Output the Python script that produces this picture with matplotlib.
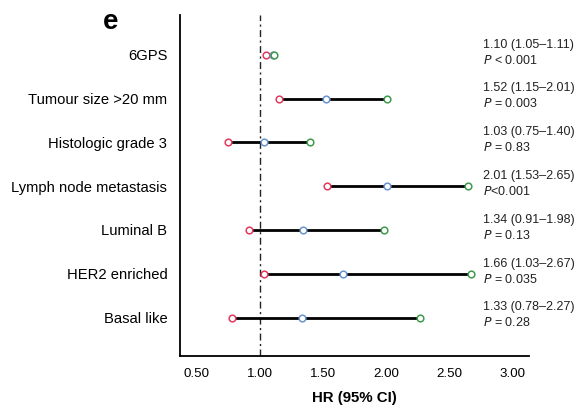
import matplotlib
matplotlib.use("Agg")
import matplotlib.pyplot as plt

plt.rcParams['font.family'] = ['Liberation Sans', 'DejaVu Sans']

categories = ["6GPS", "Tumour size >20 mm", "Histologic grade 3",
              "Lymph node metastasis", "Luminal B", "HER2 enriched", "Basal like"]
hr = [1.10, 1.52, 1.03, 2.01, 1.34, 1.66, 1.33]
ci_low = [1.05, 1.15, 0.75, 1.53, 0.91, 1.03, 0.78]
ci_high = [1.11, 2.01, 1.40, 2.65, 1.98, 2.67, 2.27]
p_labels = ["$P$ < 0.001", "$P$ = 0.003", "$P$ = 0.83", "$P$<0.001",
            "$P$ = 0.13", "$P$ = 0.035", "$P$ = 0.28"]
x_ticks = [0.5, 1.0, 1.5, 2.0, 2.5, 3.0]
x_ticklabels = ["0.50", "1.00", "1.50", "2.00", "2.50", "3.00"]

red = "#e23a5c"
blue = "#6a94cf"
green = "#3f9a4c"

fig = plt.figure(figsize=(5.78, 4.07), dpi=100)
ax = fig.add_axes([0.311, 0.126, 0.604, 0.837])

ys = list(range(len(categories)))
ax.axvline(1.0, color="#222222", lw=1.0, linestyle=(0, (5, 2.5, 1.5, 2.5)), zorder=1)

for y, lo, m, hi in zip(ys, ci_low, hr, ci_high):
    ax.plot([lo, hi], [y, y], color="black", lw=2.0, zorder=2, solid_capstyle="butt")
    for xv, c in ((lo, red), (m, blue), (hi, green)):
        ax.plot([xv], [y], marker="o", ms=4.8, mfc="white", mec=c, mew=1.1,
                linestyle="none", zorder=3)

for y, m, lo, hi, p in zip(ys, hr, ci_low, ci_high, p_labels):
    ax.text(0.868, y - 0.05, f"{m:.2f} ({lo:.2f}\u2013{hi:.2f})\n{p}",
            transform=ax.get_yaxis_transform(), fontsize=9, va="center", ha="left",
            linespacing=1.3, color="#222222", clip_on=False)

ax.set_xlim(0.365, 3.13)
ax.set_ylim(6.87, -0.906)
ax.set_yticks(ys)
ax.set_yticklabels(categories, fontsize=10.6)
ax.set_xticks(x_ticks)
ax.set_xticklabels(x_ticklabels, fontsize=9.6)
ax.tick_params(axis="y", length=0, pad=9)
ax.tick_params(axis="x", length=0, pad=9)
ax.set_xlabel("HR (95% CI)", fontsize=10.8, fontweight="bold", labelpad=8)

for s in ("top", "right"):
    ax.spines[s].set_visible(False)
for s in ("left", "bottom"):
    ax.spines[s].set_linewidth(1.3)

fig.text(111 / 578, 1 - 22 / 407, "e", fontsize=20, fontweight="bold",
         ha="center", va="center")

fig.savefig("out.png", dpi=100)
